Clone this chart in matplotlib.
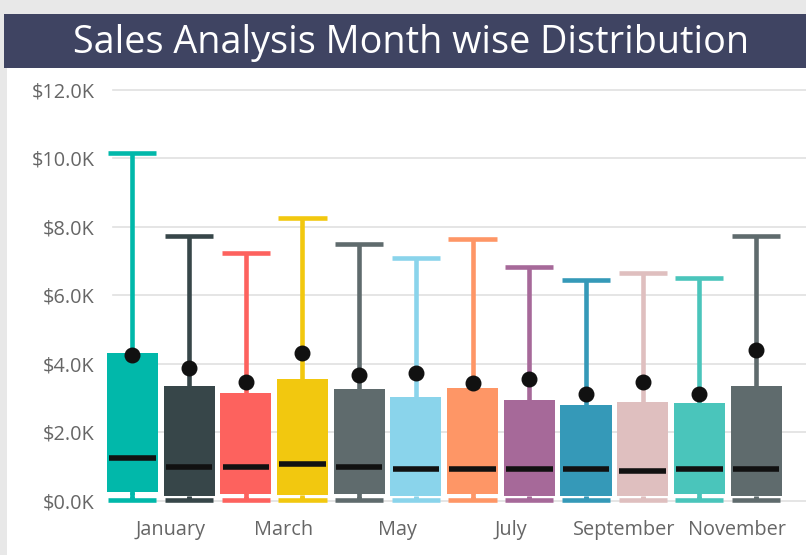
import matplotlib
matplotlib.use("Agg")
import matplotlib.pyplot as plt
from matplotlib.patches import Rectangle

# values in $K
months = ["January", "February", "March", "April", "May", "June",
          "July", "August", "September", "October", "November", "December"]
mins = [0.02] * 12
q1 = [0.26, 0.15, 0.20, 0.17, 0.20, 0.15, 0.20, 0.15, 0.15, 0.15, 0.20, 0.15]
medians = [1.25, 0.99, 0.99, 1.07, 0.99, 0.93, 0.94, 0.94, 0.94, 0.88, 0.94, 0.94]
q3 = [4.33, 3.36, 3.16, 3.56, 3.26, 3.05, 3.31, 2.95, 2.80, 2.90, 2.85, 3.37]
maxs = [10.16, 7.75, 7.25, 8.26, 7.49, 7.10, 7.65, 6.82, 6.45, 6.67, 6.52, 7.75]
means = [4.26, 3.87, 3.47, 4.33, 3.68, 3.73, 3.44, 3.56, 3.12, 3.47, 3.12, 4.41]
colors = ["#01B8AA", "#374649", "#FD625E", "#F2C80F", "#5F6B6D", "#8AD4EB",
          "#FE9666", "#A66999", "#3599B8", "#DFBFBF", "#4AC5BB", "#5F6B6D"]
yticks = [0, 2, 4, 6, 8, 10, 12]
ytick_labels = ["$%.1fK" % v for v in yticks]

plt.rcParams['font.family'] = ['Open Sans', 'DejaVu Sans']

fig = plt.figure(figsize=(8.06, 5.55), dpi=100, facecolor="#e8e8e8")

# white panel and title bar
fig.patches.append(Rectangle((7 / 806, 0), 1, (555 - 68) / 555, transform=fig.transFigure,
                             facecolor="white", edgecolor="none", zorder=-10))
fig.patches.append(Rectangle((4 / 806, (555 - 68) / 555), 1, 54 / 555, transform=fig.transFigure,
                             facecolor="#3f4462", edgecolor="none", zorder=-10))
fig.text(411 / 806, (555 - 43) / 555, "Sales Analysis Month wise Distribution",
         color="white", fontsize=27.2, ha="center", va="center")

ax = fig.add_axes([104 / 806, 0.0881, 1 - 104 / 806, 0.759])
ax.set_facecolor("none")

x = list(range(len(months)))
box_w = 0.9
cap_w = 0.85

for v in yticks:
    ax.axhline(v, xmin=0.013, xmax=1, color="#e0e0e0", lw=1.2, zorder=0)

for i in x:
    c = colors[i]
    ax.vlines(i, mins[i], maxs[i], color=c, lw=3.3, zorder=2)
    ax.hlines([mins[i], maxs[i]], i - cap_w / 2, i + cap_w / 2, color=c, lw=3.3, zorder=2)
    # white gap between box and lower cap
    ax.hlines(mins[i] + 0.12, i - cap_w / 2, i + cap_w / 2, color="white", lw=1.2, zorder=2.5)
    ax.vlines(i, mins[i] + 0.05, q1[i], color=c, lw=3.3, zorder=2.6)
ax.bar(x, [b - a for a, b in zip(q1, q3)], bottom=q1, width=box_w, color=colors, zorder=3)
for i in x:
    ax.hlines(medians[i], i - box_w / 2 + 0.04, i + box_w / 2 - 0.04, color="#111111", lw=4, zorder=4)
ax.scatter(x, means, s=110, color="#111111", zorder=5)

ax.set_xlim(-0.5, 11.88)
ax.set_ylim(-0.15, 12.15)
ax.set_yticks(yticks)
ax.set_yticklabels(ytick_labels)
ax.set_xticks([i + 0.67 for i in x[::2]])
ax.set_xticklabels(months[::2])
ax.tick_params(axis="both", length=0, labelsize=14.3, colors="#666666")
ax.tick_params(axis="y", pad=7)
ax.tick_params(axis="x", pad=10)
for s in ax.spines.values():
    s.set_visible(False)

fig.savefig("out.png", dpi=100, facecolor=fig.get_facecolor())
